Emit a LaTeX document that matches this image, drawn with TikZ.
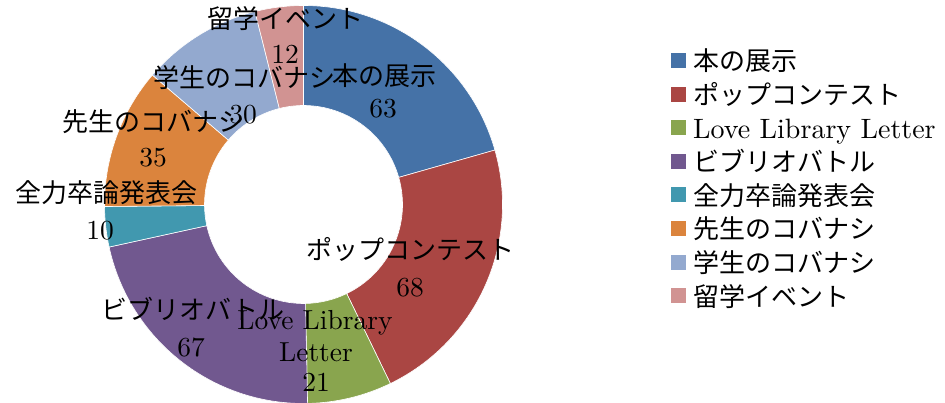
\documentclass[tikz,border=0pt]{standalone}
\usepackage{fontspec}
\setmainfont{lmroman10-regular.otf}
\newfontfamily\jp{Noto Sans CJK JP}
\definecolor{cA}{HTML}{4572A7}
\definecolor{cB}{HTML}{AA4643}
\definecolor{cC}{HTML}{89A54E}
\definecolor{cD}{HTML}{71588F}
\definecolor{cE}{HTML}{4198AF}
\definecolor{cF}{HTML}{DB843D}
\definecolor{cG}{HTML}{93A9CF}
\definecolor{cH}{HTML}{D19392}
\begin{document}
\begin{tikzpicture}[x=1pt,y=1pt,
  lat/.style={anchor=base, yshift=-9.5pt, inner sep=0pt, font=\fontsize{27.5}{32}\selectfont},
  jap/.style={anchor=base, yshift=-9.5pt, inner sep=0pt, font=\jp\fontsize{26}{30}\selectfont},
  legsq/.style={minimum size=15pt, inner sep=0pt, draw=none},
  legtxt/.style={anchor=base west, yshift=-9.5pt, inner sep=0pt}]
\useasboundingbox (0,0) rectangle (945,403);
\coordinate (c) at (303.5,198.5);
% doughnut segments
\foreach \a/\b/\col in {90/15.882/cA, 15.882/-64.118/cB, -64.118/-88.824/cC, -88.824/-167.647/cD, -167.647/-179.412/cE, -179.412/-220.588/cF, -220.588/-255.882/cG, -255.882/-270/cH}{
  \fill[\col, draw=white, line width=0.6pt] ([shift={(\a:199pt)}]c) arc[start angle=\a, end angle=\b, radius=199pt] -- ([shift={(\b:99pt)}]c) arc[start angle=\b, end angle=\a, radius=99pt] -- cycle;
}
% data labels
\node[jap] (l8) at (285,384) {留学イベント};
\node[lat] (v8) at (285,349) {12};
\node[jap] (l1) at (384,327) {本の展示};
\node[lat] (v1) at (383,295) {63};
\node[jap] (l7) at (244,325) {学生のコバナシ};
\node[lat] (v7) at (243,289) {30};
\node[jap] (l6) at (153,281) {先生のコバナシ};
\node[lat] (v6) at (153,246) {35};
\node[jap] (l5) at (106,210) {全力卒論発表会};
\node[lat] (v5) at (100,173) {10};
\node[jap] (l2) at (410,153) {ポップコンテスト};
\node[lat] (v2) at (410,116) {68};
\node[jap] (l4) at (193,93) {ビブリオバトル};
\node[lat] (v4) at (191,56) {67};
\node[lat] (l3a) at (315,83) {Love Library};
\node[lat] (l3b) at (316,51) {Letter};
\node[lat] (v3) at (316,21) {21};
% legend
\foreach \i/\col/\txt/\f in {0/cA/本の展示/\jp\fontsize{26}{30}, 1/cB/ポップコンテスト/\jp\fontsize{26}{30}, 2/cC/Love Library Letter/\rmfamily\fontsize{28}{32}, 3/cD/ビブリオバトル/\jp\fontsize{26}{30}, 4/cE/全力卒論発表会/\jp\fontsize{26}{30}, 5/cF/先生のコバナシ/\jp\fontsize{26}{30}, 6/cG/学生のコバナシ/\jp\fontsize{26}{30}, 7/cH/留学イベント/\jp\fontsize{26}{30}}{
  \node[legsq, fill=\col] (sq\i) at (678.2, 342.5-33.6*\i) {};
  \node[legtxt, font=\f\selectfont] (lt\i) at (693, 341.5-33.6*\i) {\txt};
}
\end{tikzpicture}
\end{document}
